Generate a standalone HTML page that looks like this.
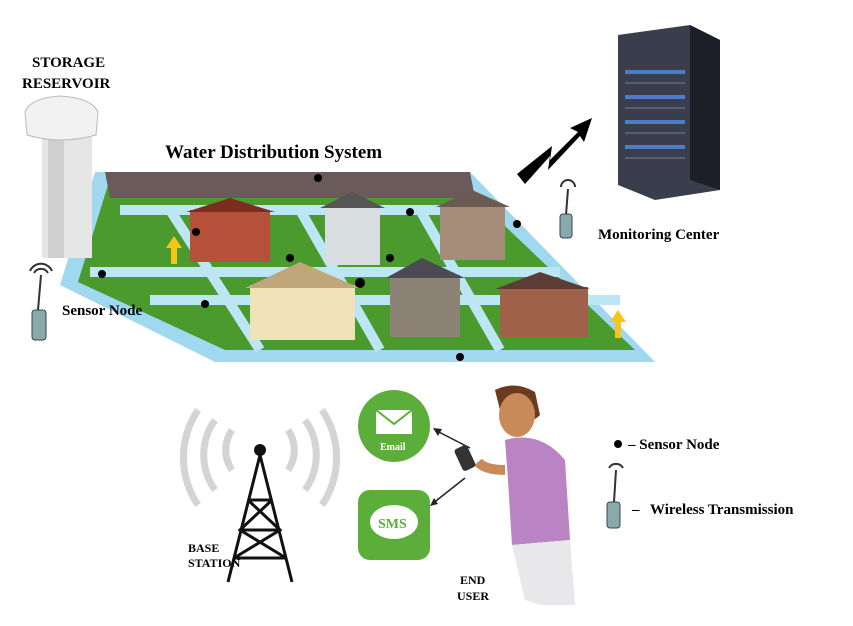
<!DOCTYPE html>
<html><head><meta charset="utf-8"><style>
body{margin:0;background:#fff;width:853px;height:621px;overflow:hidden}
svg text{font-family:"Liberation Serif",serif;font-weight:bold}
</style></head><body>
<svg width="853" height="621" viewBox="0 0 853 621" xmlns="http://www.w3.org/2000/svg">
<text x="32" y="67" font-size="15">STORAGE</text>
<text x="22" y="88" font-size="15">RESERVOIR</text>
<polygon points="95,172 470,172 655,362 215,362 60,285" fill="#9fd8ef"/>
<polygon points="108,185 462,185 635,350 225,350 78,282" fill="#4a9a2e"/>
<polygon points="105,172 470,172 475,198 110,198" fill="#6a5a5a"/>
<g stroke="#bde6f5" stroke-width="10" fill="none">
<path d="M120,210 L480,210"/><path d="M90,272 L560,272"/><path d="M150,300 L620,300"/>
<path d="M170,210 L260,350"/><path d="M300,210 L380,350"/><path d="M420,210 L500,350"/>
</g>
<rect x="42" y="130" width="50" height="128" fill="#e6e6e6"/>
<rect x="48" y="140" width="16" height="118" fill="#cfcfcf"/>
<path d="M25,112 Q30,98 60,96 Q92,98 98,112 L96,135 Q60,145 27,135 Z" fill="#f2f2f2" stroke="#bbb"/>
<g>
<rect x="190" y="210" width="80" height="52" fill="#b5503a"/><polygon points="186,212 230,198 275,212" fill="#7d2d20"/>
<rect x="325" y="205" width="55" height="60" fill="#d8dde0"/><polygon points="320,208 352,192 385,208" fill="#555"/>
<rect x="440" y="205" width="65" height="55" fill="#a58d7a"/><polygon points="436,207 472,190 510,207" fill="#6a5a52"/>
<rect x="250" y="285" width="105" height="55" fill="#efe2b8"/><polygon points="245,288 300,262 360,288" fill="#bfa77a"/>
<rect x="390" y="275" width="70" height="62" fill="#8d8276"/><polygon points="386,278 422,258 465,278" fill="#4c4a52"/>
<rect x="500" y="287" width="88" height="50" fill="#a0614a"/><polygon points="495,289 540,272 590,289" fill="#5b3d35"/>
</g>
<polygon points="166,248 174,236 182,248 177,248 177,264 171,264 171,248" fill="#f5c518"/>
<polygon points="610,322 618,310 626,322 621,322 621,338 615,338 615,322" fill="#f5c518"/>
<g fill="#000">
<circle cx="318" cy="178" r="4"/><circle cx="410" cy="212" r="4"/><circle cx="517" cy="224" r="4"/>
<circle cx="196" cy="232" r="4"/><circle cx="290" cy="258" r="4"/><circle cx="360" cy="283" r="5"/>
<circle cx="102" cy="274" r="4"/><circle cx="205" cy="304" r="4"/><circle cx="460" cy="357" r="4"/>
<circle cx="390" cy="258" r="4"/>
</g>
<text x="165" y="158" font-size="19">Water Distribution System</text>
<g transform="translate(30,265)">
<path d="M4,8 A8,8 0 0 1 18,8 M0,6 A12,12 0 0 1 22,6" stroke="#333" stroke-width="2" fill="none"/>
<line x1="11" y1="10" x2="8" y2="45" stroke="#333" stroke-width="2"/>
<rect x="2" y="45" width="14" height="30" rx="3" fill="#8aa" stroke="#345"/>
</g>
<text x="62" y="315" font-size="15">Sensor Node</text>
<polygon points="618,35 690,25 720,40 720,190 655,200 618,185" fill="#3a3e4c"/>
<polygon points="690,25 720,40 720,190 690,180" fill="#1c1f27"/>
<g fill="#4a7ec9"><rect x="625" y="70" width="60" height="4"/><rect x="625" y="95" width="60" height="4"/><rect x="625" y="120" width="60" height="4"/><rect x="625" y="145" width="60" height="4"/></g>
<g fill="#5a5e6c"><rect x="625" y="82" width="60" height="2"/><rect x="625" y="107" width="60" height="2"/><rect x="625" y="132" width="60" height="2"/><rect x="625" y="157" width="60" height="2"/></g>
<polygon points="517,174 552,146 550,160 578,132 570,128 592,118 584,142 580,136 548,170 550,156 525,184" fill="#000"/>
<g transform="translate(558,180)">
<path d="M3,7 A7,7 0 0 1 17,7" stroke="#333" stroke-width="2" fill="none"/>
<line x1="10" y1="9" x2="8" y2="35" stroke="#333" stroke-width="2"/>
<rect x="2" y="34" width="12" height="24" rx="3" fill="#8aa" stroke="#345"/>
</g>
<text x="598" y="239" font-size="15">Monitoring Center</text>
<circle cx="394" cy="426" r="36" fill="#5cae3a"/>
<rect x="376" y="410" width="36" height="24" fill="#fff"/>
<path d="M376,410 L394,424 L412,410" stroke="#5cae3a" stroke-width="2" fill="none"/>
<text x="380" y="450" font-size="10" fill="#fff" font-family="Liberation Sans">Email</text>
<rect x="358" y="490" width="72" height="70" rx="12" fill="#5cae3a"/>
<ellipse cx="394" cy="522" rx="24" ry="17" fill="#fff"/>
<text x="378" y="528" font-size="14" fill="#5cae3a">SMS</text>
<line x1="470" y1="448" x2="435" y2="430" stroke="#222" stroke-width="1.5"/>
<polygon points="433,428 442,429 438,436" fill="#222"/>
<line x1="465" y1="478" x2="432" y2="504" stroke="#222" stroke-width="1.5"/>
<polygon points="430,506 434,498 438,504" fill="#222"/>
<g stroke="#d4d4d4" stroke-width="7" fill="none">
<path d="M232,470 A35,35 0 0 1 232,430"/><path d="M288,470 A35,35 0 0 0 288,430"/>
<path d="M215,490 A60,60 0 0 1 215,420"/><path d="M305,490 A60,60 0 0 0 305,420"/>
<path d="M198,505 A85,85 0 0 1 198,410"/><path d="M322,505 A85,85 0 0 0 322,410"/>
</g>
<g stroke="#111" stroke-width="3" fill="none">
<path d="M260,455 L228,582 M260,455 L292,582 M248,500 L272,500 M240,530 L280,530 M234,558 L286,558 M248,500 L280,530 L234,558 M272,500 L240,530 L286,558"/>
</g>
<circle cx="260" cy="450" r="6" fill="#111"/>
<text x="188" y="552" font-size="12" font-family="Liberation Sans">BASE</text>
<text x="188" y="567" font-size="12" font-family="Liberation Sans">STATION</text>
<path d="M495,390 Q515,380 535,392 L540,415 Q530,425 515,422 L500,410 Z" fill="#6b3a1f"/>
<ellipse cx="517" cy="415" rx="18" ry="22" fill="#c98a5a"/>
<path d="M505,440 Q540,430 565,460 L570,540 L512,545 L508,480 Z" fill="#b983c4"/>
<path d="M512,545 L570,540 L575,605 L540,605 L525,600 Z" fill="#e8e8ea"/>
<path d="M505,470 Q485,470 478,462" stroke="#c98a5a" stroke-width="10" fill="none"/>
<rect x="458" y="446" width="14" height="24" rx="3" fill="#333" transform="rotate(-25 465 458)"/>
<text x="460" y="584" font-size="12" font-family="Liberation Sans">END</text>
<text x="457" y="600" font-size="12" font-family="Liberation Sans">USER</text>
<circle cx="618" cy="444" r="4" fill="#000"/>
<text x="628" y="449" font-size="15">– Sensor Node</text>
<g transform="translate(605,460)">
<path d="M4,8 A8,8 0 0 1 18,8" stroke="#333" stroke-width="2" fill="none"/>
<line x1="11" y1="10" x2="9" y2="42" stroke="#333" stroke-width="2"/>
<rect x="2" y="42" width="13" height="26" rx="3" fill="#8aa" stroke="#345"/>
</g>
<text x="632" y="514" font-size="15">–</text>
<text x="650" y="514" font-size="15">Wireless Transmission</text>
</svg>
</body></html>
